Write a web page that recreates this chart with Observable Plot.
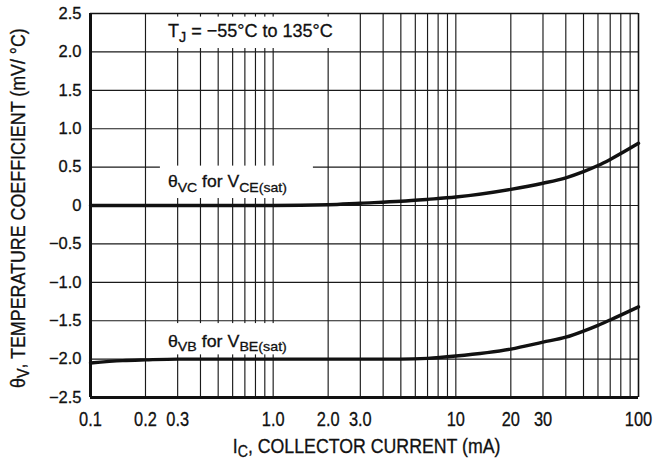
<!DOCTYPE html>
<html><head><meta charset="utf-8">
<script src="https://cdn.jsdelivr.net/npm/d3@7"></script>
<script src="https://cdn.jsdelivr.net/npm/@observablehq/plot@0.6"></script>
<style>
  html,body{margin:0;padding:0;background:#fff;}
  #chart svg{display:block;}
  #chart svg text{stroke:#111;stroke-width:0.3px;}
</style>
</head><body><div id="chart"></div>
<script>
// ---- data ----
const currentMA = [0.1, 0.15, 0.2, 0.3, 0.5, 0.7, 1, 2, 3, 5, 7, 10, 20, 30, 40, 50, 60, 70, 100];
const thetaVC   = [0.0, 0.0, 0.0, 0.0, 0.0, 0.0, 0.0, 0.01, 0.03, 0.055, 0.08, 0.11, 0.21, 0.29, 0.36, 0.44, 0.52, 0.6, 0.81];
const thetaVB   = [-2.05, -2.02, -2.01, -2.0, -2.0, -2.0, -2.0, -2.0, -2.0, -2.0, -1.99, -1.96, -1.87, -1.78, -1.715, -1.635, -1.56, -1.49, -1.32];

const xTickValues = [0.1, 0.2, 0.3, 0.5, 1, 2, 3, 5, 10, 20, 30, 50, 100];
const xTickLabels = ["0.1", "0.2", "0.3", "0.5", "1.0", "2.0", "3.0", "5.0", "10", "20", "30", "50", "100"];
const xGrid = [0.2,0.3,0.4,0.5,0.6,0.7,0.8,0.9,1,2,3,4,5,6,7,8,9,10,20,30,40,50,60,70,80,90];
const yTickValues = [-2.5, -2, -1.5, -1, -0.5, 0, 0.5, 1, 1.5, 2, 2.5];
const yTickLabels = ["−2.5", "−2.0", "−1.5", "−1.0", "−0.5", "0", "0.5", "1.0", "1.5", "2.0", "2.5"];

const xTitle = [["I", false], ["C", true], [", COLLECTOR CURRENT (mA)", false]];
const yTitle = [["θ", false], ["V", true], [", TEMPERATURE COEFFICIENT (mV/ °C)", false]];
const notes = [
  {x: 0.267, y: 2.19, parts: [["T", false], ["J", true], [" = −55°C to 135°C", false]]},
  {x: 0.267, y: 0.23, parts: [["θ", false], ["VC", true], [" for V", false], ["CE(sat)", true]]},
  {x: 0.267, y: -1.845, parts: [["θ", false], ["VB", true], [" for V", false], ["BE(sat)", true]]}
];

const rows = currentMA.map((c, i) => ({c, vc: thetaVC[i], vb: thetaVB[i]}));
const FONT = "'Liberation Sans', Arial, Helvetica, sans-serif";

const chart = Plot.plot({
  width: 654,
  height: 459,
  marginLeft: 90,
  marginRight: 16,
  marginTop: 13,
  marginBottom: 62,
  style: {background: "#fff", color: "#111", fontFamily: FONT},
  x: {type: "log", domain: [0.1, 100]},
  y: {domain: [-2.5, 2.5]},
  marks: [
    Plot.ruleX(xGrid, {stroke: "#1a1a1a", strokeWidth: 1.15}),
    Plot.ruleY(yTickValues.slice(1, -1), {stroke: "#1a1a1a", strokeWidth: 1.15}),
    Plot.ruleX([100], {stroke: "#111", strokeWidth: 1.6}),
    Plot.ruleY([2.5], {stroke: "#111", strokeWidth: 1.6}),
    Plot.ruleX([0.1], {stroke: "#111", strokeWidth: 3}),
    Plot.ruleY([-2.5], {stroke: "#111", strokeWidth: 3}),
    Plot.axisX({ticks: xTickValues, tickFormat: (d) => xTickLabels[xTickValues.indexOf(d)], tickSize: 0, tickPadding: 14, label: null, fontSize: 20.5, fill: "#111"}),
    Plot.axisY({ticks: yTickValues, tickFormat: (d) => yTickLabels[yTickValues.indexOf(d)], tickSize: 0, tickPadding: 9, label: null, fontSize: 16.5, fill: "#111"}),
    Plot.line(rows, {x: "c", y: "vc", stroke: "#111", strokeWidth: 3.4, curve: "monotone-x"}),
    Plot.line(rows, {x: "c", y: "vb", stroke: "#111", strokeWidth: 3.4, curve: "monotone-x"})
  ]
});
document.getElementById("chart").appendChild(chart);

const svg = d3.select(chart);
const sx = chart.scale("x"), sy = chart.scale("y");

// narrow the x tick labels (condensed look)
svg.selectAll("g[aria-label='x-axis tick label'] text").each(function() {
  const el = d3.select(this);
  const tr = el.attr("transform");
  if (tr) el.attr("transform", tr + " scale(0.8,1)");
  else {
    const x = +el.attr("x") || 0, y = +el.attr("y") || 0;
    el.attr("transform", `translate(${x},${y}) scale(0.8,1) translate(${-x},${-y})`);
  }
});

function addParts(t, parts, size, shift) {
  let shifted = false;
  parts.forEach(([s, sub]) => {
    const ts = t.append("tspan").text(s);
    if (sub && !shifted) { ts.attr("dy", size * shift).attr("font-size", size * 0.8); shifted = true; }
    else if (sub) { ts.attr("font-size", size * 0.8); }
    else if (shifted) { ts.attr("dy", -size * shift); shifted = false; }
  });
}

// text placed at (x,y) with a rotation, horizontally scaled to a target length
function fitted(parent, x, y, rot, size, target, parts, shift) {
  const t = parent.append("text")
    .attr("x", 0).attr("y", 0)
    .attr("text-anchor", "start")
    .attr("font-family", FONT).attr("font-size", size).attr("fill", "#111");
  addParts(t, parts, size, shift);
  const natural = t.node().getComputedTextLength();
  const k = target / natural;
  t.attr("transform", `translate(${x},${y}) rotate(${rot}) scale(${k},1)`);
  return t;
}

// annotations with white backgrounds
const sizes = [18.5, 17, 17];
const lengths = [165, 119, 119];
const pads = [[3, 25, 3, 21], [6, 26, 3, 8], [8, 40, 0, 21]]; // top,right,bottom,left
const layer = svg.append("g");
notes.forEach((n, i) => {
  const g = layer.append("g");
  const rect = g.append("rect").attr("fill", "#fff");
  const x0 = sx.apply(n.x), y0 = sy.apply(n.y);
  const t = fitted(g, x0, y0, 0, sizes[i], lengths[i], n.parts, 0.28);
  const b = t.node().getBBox();
  const p = pads[i];
  rect.attr("x", x0 - p[3]).attr("y", y0 + b.y - p[0])
      .attr("width", lengths[i] + p[1] + p[3]).attr("height", b.height + p[0] + p[2]);
});
// curves on top of the boxes
svg.selectAll("g[aria-label='line']").raise();

// axis titles
fitted(svg, 232.7, 452.5, 0, 19.5, 268, xTitle, 0.22);
fitted(svg, 25, 388, -90, 19.5, 360, yTitle, 0.22);
</script>
</body></html>
